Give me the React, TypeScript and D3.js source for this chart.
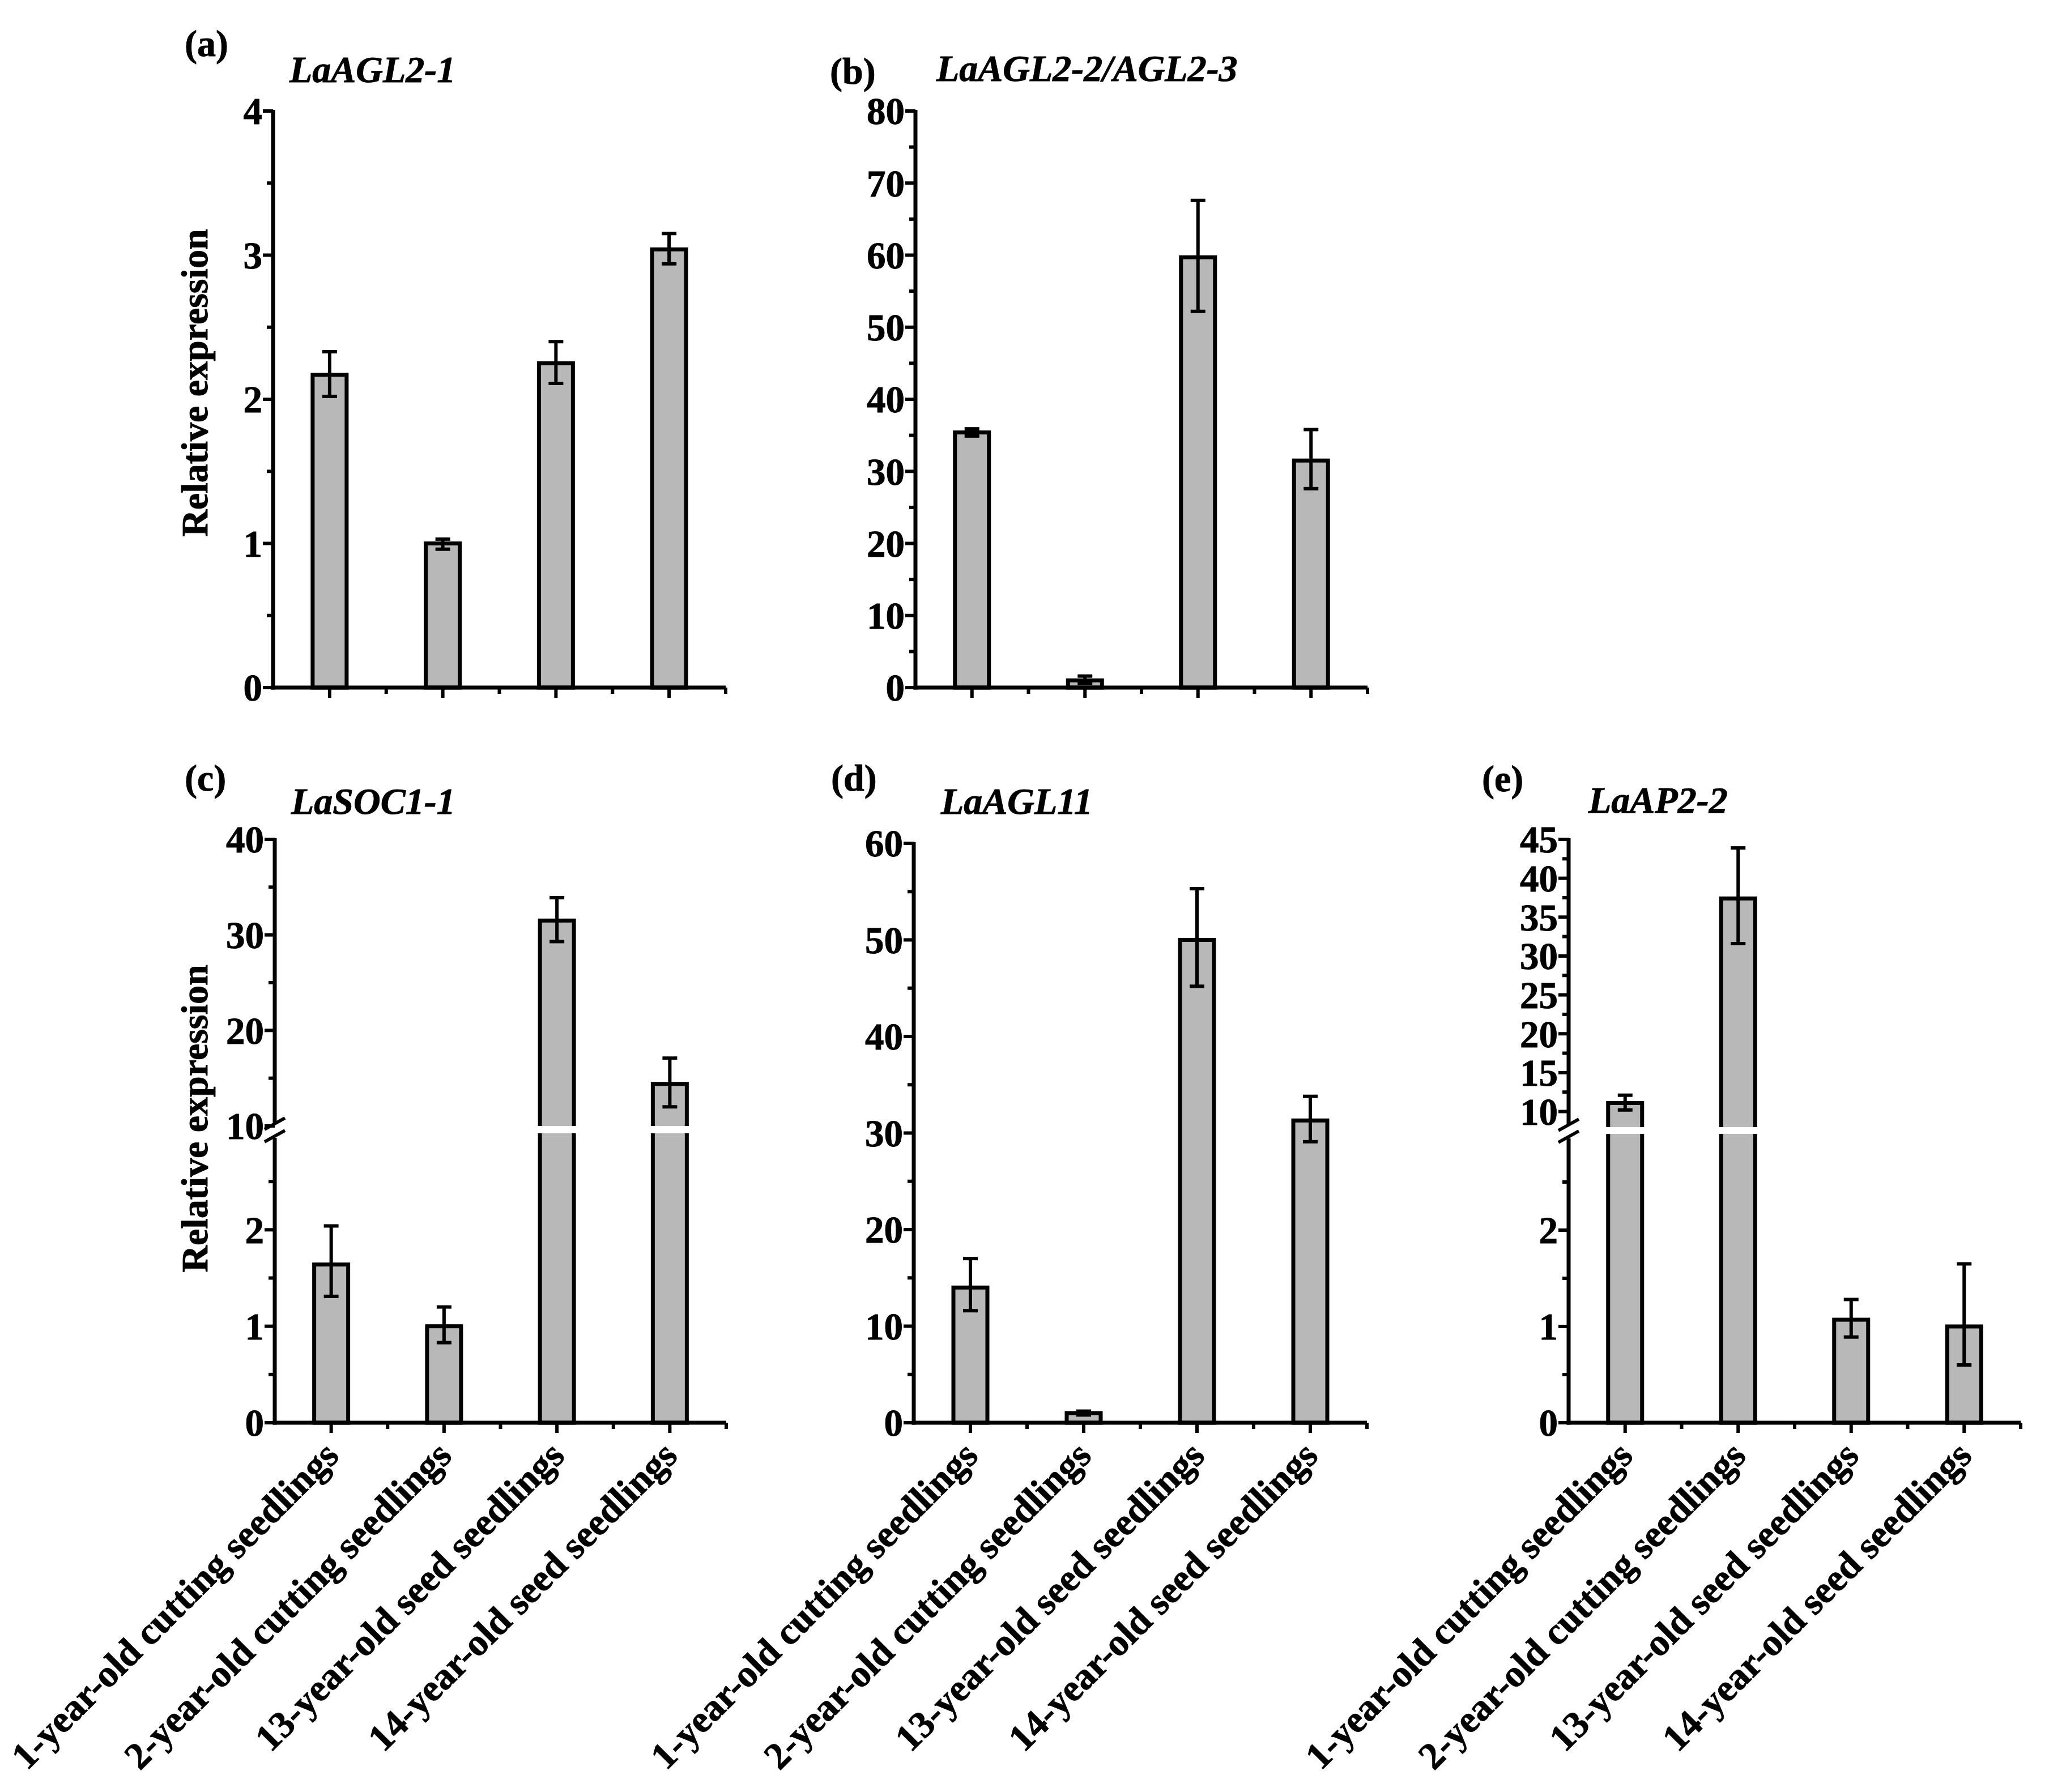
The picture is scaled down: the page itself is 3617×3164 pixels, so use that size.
import React from "react";
import * as d3 from "d3";

// ---------- data ----------
const categories = [
  "1-year-old cutting seedlings",
  "2-year-old cutting seedlings",
  "13-year-old seed seedlings",
  "14-year-old seed seedlings",
];

// bar heights and the lower / upper ends of the error bars
const aValues = [2.17, 1.0, 2.25, 3.04];
const aLow = [2.02, 0.96, 2.11, 2.94];
const aHigh = [2.33, 1.03, 2.4, 3.15];

const bValues = [35.4, 1.0, 59.7, 31.5];
const bLow = [34.9, 0.6, 52.2, 27.6];
const bHigh = [35.9, 1.6, 67.6, 35.8];

const cValues = [1.64, 1.0, 31.5, 14.4];
const cLow = [1.31, 0.83, 29.3, 12.0];
const cHigh = [2.04, 1.2, 33.9, 17.1];

const dValues = [14.0, 1.0, 50.0, 31.3];
const dLow = [11.6, 0.8, 45.2, 29.1];
const dHigh = [17.0, 1.2, 55.3, 33.8];

const eValues = [11.1, 37.4, 1.07, 1.0];
const eLow = [10.2, 31.6, 0.89, 0.6];
const eHigh = [12.1, 43.9, 1.28, 1.65];

const panelLetters = ["(a)", "(b)", "(c)", "(d)", "(e)"];
const geneTitles = ["LaAGL2-1", "LaAGL2-2/AGL2-3", "LaSOC1-1", "LaAGL11", "LaAP2-2"];
const yAxisTitle = "Relative expression";

// tick values
const aMajor = [0, 1, 2, 3, 4];
const aMinor = [0.5, 1.5, 2.5, 3.5];
const bMajor = [0, 10, 20, 30, 40, 50, 60, 70, 80];
const bMinor = [5, 15, 25, 35, 45, 55, 65, 75];
const cMajor = [0, 1, 2, 10, 20, 30, 40];
const cMinor = [0.5, 1.5, 2.5, 15, 25, 35];
const dMajor = [0, 10, 20, 30, 40, 50, 60];
const dMinor = [5, 15, 25, 35, 45, 55];
const eMajor = [0, 1, 2, 10, 15, 20, 25, 30, 35, 40, 45];
const eMinor = [0.5, 1.5, 2.5, 12.5, 17.5, 22.5, 27.5, 32.5, 37.5, 42.5];

// ---------- layout ----------
const W = 3617;
const H = 3164;
const FONT = "'Liberation Serif', 'Times New Roman', Times, serif";
const FS = 66;
const TICK_FS = 67;
const BAR_FILL = "#b8b8b8";
const TXT_STROKE = 0.9;

type Panel = {
  letter: string;
  title: string;
  values: number[];
  low: number[];
  high: number[];
  major: number[];
  minor: number[];
  axisX: number;
  xEnd: number;
  y0: number;
  yTop: number;
  max: number;
  broken?: { lowMax: number; lowTop: number; upMin: number; upBottom: number };
  letterPos: [number, number];
  titlePos: [number, number];
  yLabel?: [number, number];
  xLabels: boolean;
};

const panels: Panel[] = [
  {
    letter: panelLetters[0], title: geneTitles[0], values: aValues, low: aLow, high: aHigh,
    major: aMajor, minor: aMinor, axisX: 482, xEnd: 1281, y0: 1214, yTop: 196, max: 4,
    letterPos: [326, 99], titlePos: [511, 145], yLabel: [366, 676], xLabels: false,
  },
  {
    letter: panelLetters[1], title: geneTitles[1], values: bValues, low: bLow, high: bHigh,
    major: bMajor, minor: bMinor, axisX: 1616, xEnd: 2414, y0: 1214, yTop: 196, max: 80,
    letterPos: [1465, 148], titlePos: [1653, 143], xLabels: false,
  },
  {
    letter: panelLetters[2], title: geneTitles[2], values: cValues, low: cLow, high: cHigh,
    major: cMajor, minor: cMinor, axisX: 485, xEnd: 1282, y0: 2512, yTop: 1482, max: 40,
    broken: { lowMax: 3, lowTop: 2001, upMin: 10, upBottom: 1988 },
    letterPos: [326, 1396], titlePos: [514, 1437], yLabel: [366, 1975], xLabels: true,
  },
  {
    letter: panelLetters[3], title: geneTitles[3], values: dValues, low: dLow, high: dHigh,
    major: dMajor, minor: dMinor, axisX: 1613, xEnd: 2413, y0: 2512, yTop: 1489, max: 60,
    letterPos: [1467, 1396], titlePos: [1661, 1437], xLabels: true,
  },
  {
    letter: panelLetters[4], title: geneTitles[4], values: eValues, low: eLow, high: eHigh,
    major: eMajor, minor: eMinor, axisX: 2769, xEnd: 3567, y0: 2512, yTop: 1482, max: 45,
    broken: { lowMax: 3, lowTop: 2002, upMin: 8, upBottom: 1990 },
    letterPos: [2616, 1397], titlePos: [2804, 1435], xLabels: true,
  },
];

function makeY(p: Panel) {
  if (!p.broken) {
    const s = d3.scaleLinear().domain([0, p.max]).range([p.y0, p.yTop]);
    return (v: number) => s(v);
  }
  const b = p.broken;
  const low = d3.scaleLinear().domain([0, b.lowMax]).range([p.y0, b.lowTop]);
  const up = d3.scaleLinear().domain([b.upMin, p.max]).range([b.upBottom, p.yTop]);
  return (v: number) => (v <= b.lowMax ? low(v) : up(v));
}

const AXIS_W = 7;
const TICK_W = 6;
const MAJ = 18;
const MIN = 11;
const BAR_W = 60;
const CAP = 26;

const textProps = {
  fontFamily: FONT,
  fontWeight: "bold" as const,
  fill: "#000",
  stroke: "#000",
  strokeWidth: TXT_STROKE,
};

function PanelView({ p }: { p: Panel }) {
  const y = makeY(p);
  const x = d3.scaleBand<string>().domain(categories).range([p.axisX, p.xEnd]).padding(0);
  const bw = x.bandwidth();
  const cx = (c: string) => (x(c) as number) + bw / 2;
  const boundaries = categories.map((c) => (x(c) as number) + bw);
  const fmt = (v: number) => d3.format("d")(v);

  const b = p.broken;
  return (
    <g>
      {/* panel letter and title */}
      <text x={p.letterPos[0]} y={p.letterPos[1]} fontSize={FS} {...textProps}>
        {p.letter}
      </text>
      <text x={p.titlePos[0]} y={p.titlePos[1]} fontStyle="italic" fontSize={FS} {...textProps}>
        {p.title}
      </text>
      {p.yLabel && (
        <text
          transform={`translate(${p.yLabel[0]},${p.yLabel[1]}) rotate(-90)`}
          textAnchor="middle"
          fontSize={FS}
          {...textProps}
        >
          {yAxisTitle}
        </text>
      )}

      {/* bars */}
      {categories.map((c, i) => {
        const v = p.values[i];
        const top = y(v);
        return (
          <rect
            key={"bar" + i}
            x={cx(c) - BAR_W / 2}
            y={top}
            width={BAR_W}
            height={y(0) - top}
            fill={BAR_FILL}
            stroke="#000"
            strokeWidth={7}
          />
        );
      })}
      {/* break gap through bars */}
      {b &&
        categories.map((c, i) =>
          p.values[i] > b.lowMax ? (
            <rect
              key={"gap" + i}
              x={cx(c) - BAR_W / 2 - 6}
              y={b.upBottom}
              width={BAR_W + 12}
              height={b.lowTop - b.upBottom}
              fill="#fff"
            />
          ) : null
        )}
      {/* error bars */}
      {categories.map((c, i) => {
        const hi = y(p.high[i]);
        const lo = y(p.low[i]);
        const xc = cx(c);
        return (
          <g key={"err" + i} stroke="#000" strokeWidth={6}>
            <line x1={xc} x2={xc} y1={hi} y2={lo} />
            <line x1={xc - CAP / 2} x2={xc + CAP / 2} y1={hi} y2={hi} />
            <line x1={xc - CAP / 2} x2={xc + CAP / 2} y1={lo} y2={lo} />
          </g>
        );
      })}

      {/* y axis */}
      {b ? (
        <g stroke="#000" strokeWidth={AXIS_W}>
          <line x1={p.axisX} x2={p.axisX} y1={p.y0 + AXIS_W / 2} y2={b.lowTop + 8} />
          <line x1={p.axisX} x2={p.axisX} y1={p.yTop - 2} y2={b.upBottom - 6} />
          <line x1={p.axisX - 18} x2={p.axisX + 18} y1={b.upBottom - 4 + 10} y2={b.upBottom - 4 - 10} strokeWidth={6} />
          <line x1={p.axisX - 18} x2={p.axisX + 18} y1={b.lowTop + 5 + 10} y2={b.lowTop + 5 - 10} strokeWidth={6} />
        </g>
      ) : (
        <line x1={p.axisX} x2={p.axisX} y1={p.y0 + AXIS_W / 2} y2={p.yTop - 2} stroke="#000" strokeWidth={AXIS_W} />
      )}
      {p.major.map((t) => (
        <g key={"maj" + t}>
          <line x1={p.axisX - MAJ} x2={p.axisX} y1={y(t)} y2={y(t)} stroke="#000" strokeWidth={TICK_W} />
          <text x={p.axisX - MAJ - 1} y={y(t)} dy="0.35em" textAnchor="end" fontSize={TICK_FS} {...textProps}>
            {fmt(t)}
          </text>
        </g>
      ))}
      {p.minor.map((t) => (
        <line key={"min" + t} x1={p.axisX - MIN} x2={p.axisX} y1={y(t)} y2={y(t)} stroke="#000" strokeWidth={TICK_W} />
      ))}

      {/* x axis */}
      <line x1={p.axisX - AXIS_W / 2} x2={p.xEnd} y1={p.y0} y2={p.y0} stroke="#000" strokeWidth={AXIS_W} />
      {categories.map((c) => (
        <line key={"xt" + c} x1={cx(c)} x2={cx(c)} y1={p.y0} y2={p.y0 + MAJ} stroke="#000" strokeWidth={TICK_W} />
      ))}
      {boundaries.map((bx, i) => (
        <line key={"xm" + i} x1={bx} x2={bx} y1={p.y0} y2={p.y0 + MIN} stroke="#000" strokeWidth={TICK_W} />
      ))}
      {p.xLabels &&
        categories.map((c) => (
          <text
            key={"xl" + c}
            transform={`translate(${cx(c)},${p.y0 + 45}) rotate(-45)`}
            dy="0.35em"
            textAnchor="end"
            fontSize={FS + 1}
            {...textProps}
          >
            {c}
          </text>
        ))}
    </g>
  );
}

export default function App() {
  return (
    <svg
      width={W}
      height={H}
      viewBox={`0 0 ${W} ${H}`}
      style={{ position: "absolute", left: 0, top: 0, background: "#fff" }}
    >
      <rect x={0} y={0} width={W} height={H} fill="#fff" />
      {panels.map((p, i) => (
        <PanelView key={i} p={p} />
      ))}
    </svg>
  );
}
